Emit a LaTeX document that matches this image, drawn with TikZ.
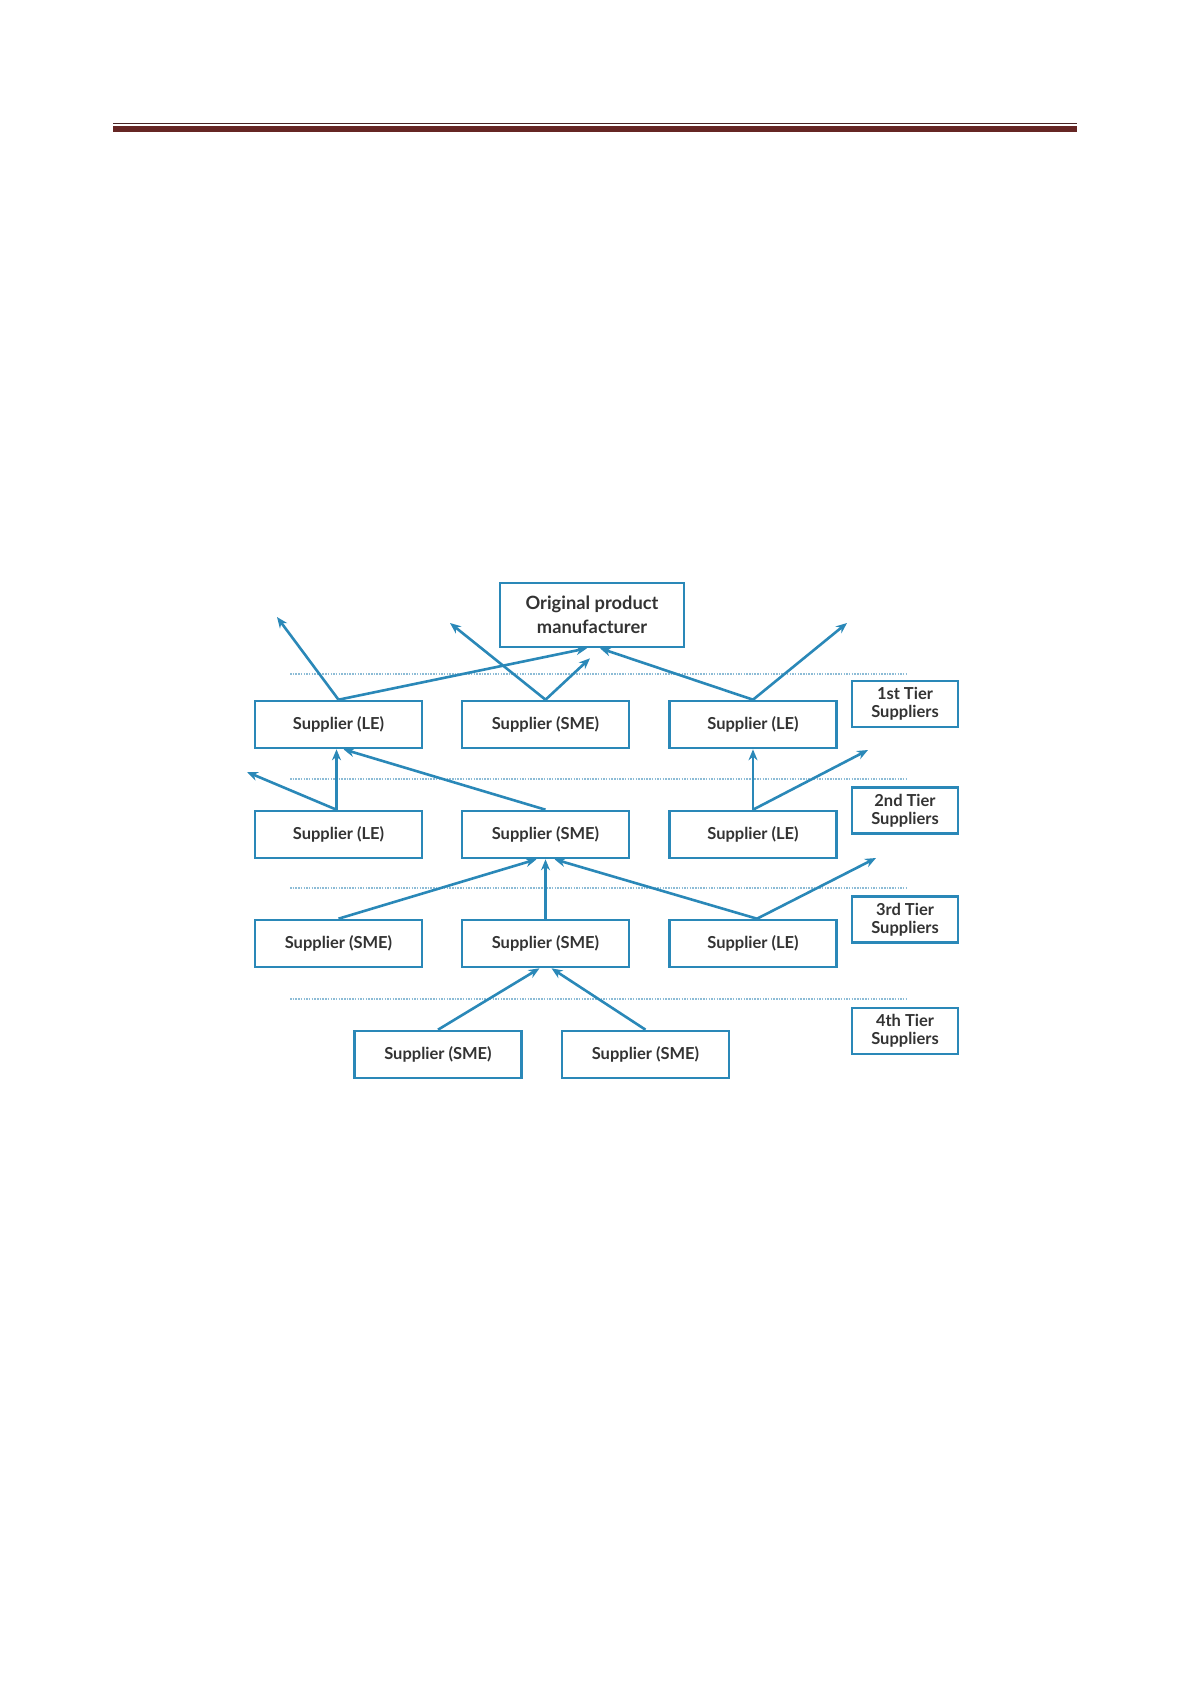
\documentclass[tikz,border=0pt]{standalone}
\usepackage{fontspec}
\setmainfont{Lato}
\usetikzlibrary{arrows.meta,calc}
\definecolor{boxblue}{HTML}{2A88B8}
\definecolor{dotblue}{HTML}{8DBCD6}
\definecolor{txt}{HTML}{333333}
\definecolor{hdrred}{HTML}{662624}
\definecolor{hdrdark}{HTML}{4A2424}
\begin{document}
\begin{tikzpicture}[x=1pt,y=-1pt,
  sbox/.style={draw=boxblue,line width=2.6pt,minimum width=167pt,minimum height=47pt,inner sep=0pt,text=txt,font=\fontsize{16.5}{18}\selectfont\bfseries},
  tbox/.style={sbox,minimum width=106pt,minimum height=46pt,align=center},
  arr/.style={draw=boxblue,line width=2.6pt,-{Stealth[length=11pt,width=9pt]}},
  tierline/.style={draw=dotblue,line width=1.5pt,dash pattern=on 1.5pt off 1.2pt}]
\useasboundingbox[fill=white] (0,0) rectangle (1192,1685);
% header
\fill[hdrred] (113,126) rectangle (1077,132);
\draw[hdrdark,line width=1.3pt] (113,123.5) -- (1077,123.5);
% tier separators
\foreach \yy in {674,779,888,999} {\draw[tierline] (290,\yy) -- (907,\yy);}
% nodes
\node[sbox,minimum width=184pt,minimum height=64pt,align=center,font=\fontsize{18.3}{24}\selectfont\bfseries] (opm) at (592,615) {Original product\\manufacturer};
\node[sbox] (a1) at (338.5,724.5) {Supplier (LE)};
\node[sbox] (b1) at (545.5,724.5) {Supplier (SME)};
\node[sbox] (c1) at (753,724.5) {Supplier (LE)};
\node[sbox] (a2) at (338.5,834.5) {Supplier (LE)};
\node[sbox] (b2) at (545.5,834.5) {Supplier (SME)};
\node[sbox] (c2) at (753,834.5) {Supplier (LE)};
\node[sbox] (a3) at (338.5,943.5) {Supplier (SME)};
\node[sbox] (b3) at (545.5,943.5) {Supplier (SME)};
\node[sbox] (c3) at (753,943.5) {Supplier (LE)};
\node[sbox] (d4) at (438,1054.5) {Supplier (SME)};
\node[sbox] (e4) at (645.5,1054.5) {Supplier (SME)};
\node[tbox] (t1) at (905,704) {1st Tier\\Suppliers};
\node[tbox] (t2) at (905,810.5) {2nd Tier\\Suppliers};
\node[tbox] (t3) at (905,919.5) {3rd Tier\\Suppliers};
\node[tbox] (t4) at (905,1031) {4th Tier\\Suppliers};
% free ends
\coordinate (f1) at (277,617);
\coordinate (f2) at (450,623);
\coordinate (f3) at (847,623);
\coordinate (f4) at (247,772);
\coordinate (f5) at (868,750);
\coordinate (f6) at (876,858);
% row 1
\draw[arr] (a1.north) -- ($(opm.south)+(-5,0)$);
\draw[arr] (a1.north) -- (f1);
\draw[arr] (b1.north) -- (f2);
\draw[arr] (b1.north) -- ($(opm.south)+(-2,10)$);
\draw[arr] (c1.north) -- ($(opm.south)+(8,0)$);
\draw[arr] (c1.north) -- (f3);
% row 2
\draw[arr] ($(a2.north)+(-2,0)$) -- ($(a1.south)+(-2,0)$);
\draw[arr] ($(a2.north)+(-2,0)$) -- (f4);
\draw[arr] (b2.north) -- ($(a1.south)+(5,0)$);
\draw[arr] (c2.north) -- (c1.south);
\draw[arr] (c2.north) -- (f5);
% row 3
\draw[arr] (a3.north) -- ($(b2.south)+(-9,0)$);
\draw[arr] (b3.north) -- (b2.south);
\draw[arr] ($(c3.north)+(4,0)$) -- ($(b2.south)+(9,0)$);
\draw[arr] ($(c3.north)+(4,0)$) -- (f6);
% row 4
\draw[arr] (d4.north) -- ($(b3.south)+(-6,0)$);
\draw[arr] (e4.north) -- ($(b3.south)+(6,0)$);
\end{tikzpicture}
\end{document}
